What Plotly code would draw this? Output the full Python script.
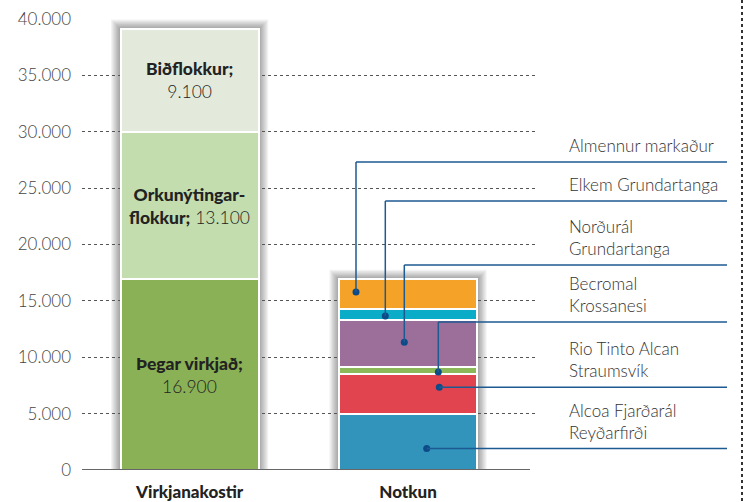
import plotly.graph_objects as go

# ---------------- data ----------------
categories = ["Virkjanakostir", "Notkun"]

potential_names = ["Þegar virkjað;", "Orkunýtingar-<br>flokkur;", "Biðflokkur;"]
potential_values = [16900, 13100, 9100]

usage_names = ["Alcoa Fjarðarál<br>Reyðarfirði", "Rio Tinto Alcan<br>Straumsvík",
               "Becromal<br>Krossanesi", "Norðurál<br>Grundartanga",
               "Elkem Grundartanga", "Almennur markaður"]
usage_values = [5000, 3550, 560, 4170, 975, 2645]

y_tickvals = [0, 5000, 10000, 15000, 20000, 25000, 30000, 35000, 40000]
y_ticktext = ["0", "5.000", "10.000", "15.000", "20.000", "25.000", "30.000", "35.000", "40.000"]

# ---------------- style ----------------
W, H = 746, 502
ML, MR, MT, MB = 82, 208, 19, 32
PW, PH = W - ML - MR, H - MT - MB
XR = [-0.493, 1.595]
YR = [0, 40000]
BAR_W = 0.632
FONT = "Lato"

potential_colors = ["#8AB155", "#C3DDAF", "#E3EADB"]
usage_colors = ["#3293BB", "#E1434F", "#8DB85A", "#9B6F99", "#0AACC8", "#F5A228"]
leader_col = "#1E5A92"

# leader dot position within segment (fraction) and horizontal line heights (px)
dot_frac = [0.38, 0.66, 0.24, 0.53, 0.38, 0.58]
label_line_px = [448, 387, 322, 265, 201, 162]
dot_x_px = [426.7, 439.3, 438.3, 404.3, 385.3, 356.0]
label_left_px = 567
label_right_px = 727


def fmt(v):
    return f"{v:,}".replace(",", ".")


def px2paper_x(px):
    return (px - ML) / PW


def val2paper_y(v):
    return (v - YR[0]) / (YR[1] - YR[0])


def px2paper_y(py):
    return (MT + PH - py) / PH


def x2px(x):
    return ML + (x - XR[0]) / (XR[1] - XR[0]) * PW


fig = go.Figure()

# stacked bars
for i, v in enumerate(potential_values):
    fig.add_trace(go.Bar(x=[0], y=[v], width=BAR_W,
                         marker=dict(color=potential_colors[i], line=dict(color="white", width=2.5)),
                         hoverinfo="skip", showlegend=False))
for i, v in enumerate(usage_values):
    fig.add_trace(go.Bar(x=[1], y=[v], width=BAR_W,
                         marker=dict(color=usage_colors[i], line=dict(color="white", width=2.5)),
                         hoverinfo="skip", showlegend=False))

shapes = []
annotations = []

# soft shadows behind bars
dxp = (XR[1] - XR[0]) / PW
dyp = (YR[1] - YR[0]) / PH
for xc, total in [(0, sum(potential_values)), (1, sum(usage_values))]:
    for k in range(1, 9):
        e = 1.2 * k
        shapes.append(dict(type="rect", xref="x", yref="y", layer="below",
                           x0=xc - BAR_W / 2 - e * dxp, x1=xc + BAR_W / 2 + e * dxp,
                           y0=0, y1=total + e * dyp,
                           fillcolor="rgba(0,0,0,0.05)", line=dict(width=0)))

BOLD = '<span style="font-weight:900">'
# labels inside left bar
base = 0
for n, v in zip(potential_names, potential_values):
    mid = base + v / 2
    if "<br>" in n:
        a, b = n.split("<br>")
        txt = BOLD + a + "</span><br>" + BOLD + b + "</span> " + fmt(v)
    else:
        txt = BOLD + n + "</span><br>" + fmt(v)
    annotations.append(dict(x=0, y=mid, xref="x", yref="y", text=txt, showarrow=False,
                            font=dict(family=FONT, size=17.5, color="#222", weight=300),
                            align="center"))
    base += v

# leader lines, dots and labels for usage bar
base = 0
dot_x = []
dot_y = []
for i, (n, v) in enumerate(zip(usage_names, usage_values)):
    dy = base + v * dot_frac[i]
    base += v
    dxv = 1 + (dot_x_px[i] - x2px(1)) / PW * (XR[1] - XR[0])
    dot_x.append(dxv)
    dot_y.append(dy)
    px_x = px2paper_x(dot_x_px[i])
    py_dot = val2paper_y(dy)
    if i < 2:
        py_line = py_dot
    else:
        py_line = px2paper_y(label_line_px[i])
        shapes.append(dict(type="line", xref="paper", yref="paper", x0=px_x, x1=px_x,
                           y0=py_dot, y1=py_line, line=dict(color=leader_col, width=1.5)))
    shapes.append(dict(type="line", xref="paper", yref="paper", x0=px_x,
                       x1=px2paper_x(label_right_px), y0=py_line, y1=py_line,
                       line=dict(color=leader_col, width=1.5)))
    annotations.append(dict(x=px2paper_x(label_left_px), y=py_line, xref="paper", yref="paper",
                            xanchor="left", yanchor="bottom", yshift=4, align="left",
                            text=n, showarrow=False,
                            font=dict(family=FONT, size=17, color="#333", weight=300)))

fig.add_trace(go.Scatter(x=dot_x, y=dot_y, mode="markers", cliponaxis=False,
                         marker=dict(color="#0D4A88", size=7), hoverinfo="skip", showlegend=False))

# right dotted border
shapes.append(dict(type="line", xref="paper", yref="paper", x0=px2paper_x(742), x1=px2paper_x(742),
                   y0=px2paper_y(0), y1=px2paper_y(H), line=dict(color="#333", width=2, dash="dot")))

# zero line
shapes.append(dict(type="line", xref="paper", yref="y", x0=0, x1=px2paper_x(530), y0=0, y1=0,
                   line=dict(color="#666", width=2)))

fig.update_layout(
    width=W, height=H, barmode="stack", bargap=0,
    margin=dict(l=ML, r=MR, t=MT, b=MB, pad=0, autoexpand=False),
    paper_bgcolor="white", plot_bgcolor="white",
    font=dict(family=FONT, color="#333"),
    shapes=shapes, annotations=annotations,
    xaxis=dict(range=XR, tickvals=[0, 1], ticktext=[BOLD + c + "</span>" for c in categories],
               tickfont=dict(family=FONT, size=17, color="#222"), showgrid=False, zeroline=False,
               showline=False, ticks="", ticklabelstandoff=10, fixedrange=True, automargin=False),
    yaxis=dict(range=YR, tickvals=y_tickvals, ticktext=y_ticktext,
               tickfont=dict(family=FONT, size=17, color="#444", weight=300),
               showgrid=True, gridcolor="#555", gridwidth=1, griddash="dot",
               zeroline=False, showline=False, ticks="", ticklabelstandoff=10, fixedrange=True,
               automargin=False),
)

fig.write_html("out.html", config={"displayModeBar": False},
               post_script="document.body.style.margin='0';document.body.style.overflow='hidden';")
